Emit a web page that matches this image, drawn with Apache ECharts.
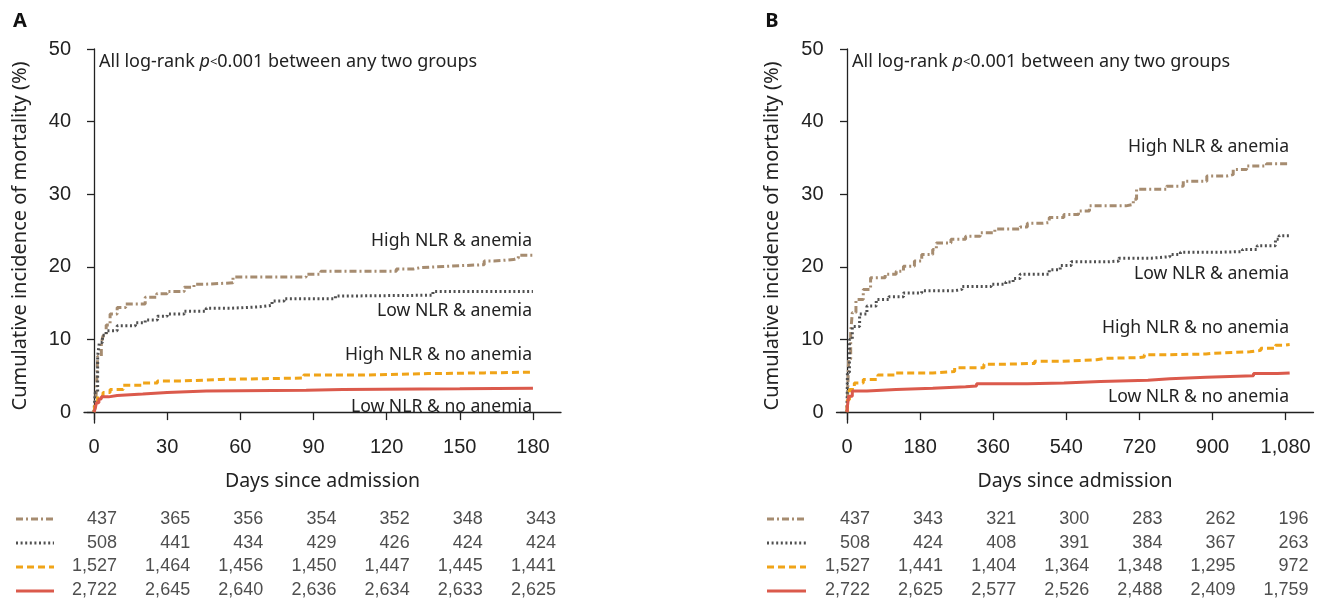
<!DOCTYPE html>
<html>
<head>
<meta charset="utf-8">
<script src="https://cdn.jsdelivr.net/npm/echarts@6/dist/echarts.min.js"></script>
<style>
  html, body { margin: 0; padding: 0; background: #fff; }
  #main { width: 1322px; height: 602px; }
</style>
</head>
<body>
<div id="main"></div>
<script>
// group names (order of risk table rows)
const groups = ['High NLR & anemia', 'Low NLR & anemia', 'High NLR & no anemia', 'Low NLR & no anemia'];

// panel A: 180-day follow-up, [day, cumulative incidence %]
const a_highAnemia = [[0,0],[0.5,0.8],[1,3],[1.5,7.7],[3,9.5],[3.7,10.5],[5,12],[6.6,13.5],[9.5,14.4],[13,14.9],[21,15.8],[25.7,16.3],[30,16.6],[37,17.2],[41,17.6],[45,17.8],[57,18.6],[87,19],[93,19.4],[124,19.7],[131,19.9],[134,20.1],[146,20.3],[160,20.8],[164,21],[172,21.2],[174,21.6],[180,21.6]];
const a_lowAnemia = [[0,0],[0.5,2.7],[1.5,7.7],[2.2,9.6],[3.5,10.6],[5,11.2],[9.5,11.9],[17,12.3],[21,12.7],[26,13.2],[30,13.5],[37,13.9],[46,14.3],[56,14.5],[68,14.7],[73,15.3],[78,15.6],[99,16],[108,16.1],[139,16.6],[180,16.6]];
const a_highNoAnemia = [[0,0],[0.5,1.3],[1.5,2.2],[3.7,2.7],[6.6,3.1],[12,3.7],[20,4.0],[26,4.3],[37,4.5],[52,4.6],[70,4.7],[86,5.1],[111,5.3],[137,5.4],[160,5.5],[180,5.5]];
const a_lowNoAnemia = [[0,0],[0.5,0.5],[1,1.3],[2,1.8],[3,2.1],[6,2.3],[9.5,2.5],[20,2.7],[30,2.9],[46,3.0],[87,3.1],[102,3.2],[150,3.3],[180,3.3]];

// panel B: 3-year follow-up
const b_highAnemia = [[0,0],[1,1.7],[4,7.3],[9,10.9],[13,13.7],[22,15.5],[40,16.9],[58,18.5],[94,19],[121,19.4],[139,20.1],[166,20.8],[184,21.7],[211,22.4],[220,23.3],[256,23.8],[292,24.2],[328,24.7],[364,25.2],[426,25.5],[444,26.0],[480,26.1],[498,26.8],[534,27.2],[570,27.7],[597,28.4],[687,28.6],[705,29.3],[713,30.7],[787,31.1],[828,31.8],[886,32.5],[935,32.7],[951,33.4],[984,33.9],[1033,34.2],[1090,34.2]];
const b_lowAnemia = [[0,0],[1,5.5],[6,10],[13,11.8],[31,13.5],[49,14.6],[72,15.5],[103,15.9],[139,16.4],[184,16.7],[265,16.9],[283,17.3],[355,17.6],[391,17.9],[409,18.4],[426,19],[498,19.6],[525,20.2],[552,20.7],[642,20.8],[669,21.2],[750,21.4],[795,21.7],[821,22.0],[911,22.1],[974,22.4],[1010,22.9],[1055,23.8],[1064,24.3],[1090,24.4]];
const b_highNoAnemia = [[0,0],[1,1.7],[6,3.1],[18,4.0],[40,4.5],[76,5.1],[121,5.4],[211,5.6],[265,6.1],[337,6.6],[391,6.7],[462,7.0],[525,7.2],[615,7.4],[633,7.5],[714,7.6],[732,7.9],[795,8.0],[884,8.1],[902,8.3],[992,8.5],[1019,8.8],[1055,9.2],[1075,9.3],[1090,9.3]];
const b_lowNoAnemia = [[0,0],[1,0.8],[4,2.2],[13,2.9],[49,3.1],[121,3.3],[211,3.5],[292,3.6],[319,3.9],[444,4.0],[534,4.2],[624,4.4],[741,4.6],[795,4.8],[884,5.0],[1001,5.3],[1060,5.4],[1090,5.4]];

// tick positions
const a_ticks = [0, 30, 60, 90, 120, 150, 180];
const b_ticks = [0, 180, 360, 540, 720, 900, 1080];
const y_ticks = [0, 10, 20, 30, 40, 50];

// number at risk
const a_risk = [
  [437, 365, 356, 354, 352, 348, 343],
  [508, 441, 434, 429, 426, 424, 424],
  [1527, 1464, 1456, 1450, 1447, 1445, 1441],
  [2722, 2645, 2640, 2636, 2634, 2633, 2625]
];
const b_risk = [
  [437, 343, 321, 300, 283, 262, 196],
  [508, 424, 408, 391, 384, 367, 263],
  [1527, 1441, 1404, 1364, 1348, 1295, 972],
  [2722, 2625, 2577, 2526, 2488, 2409, 1759]
];

const colors = ['#a68c70', '#505050', '#f0a418', '#db5a4c'];
const dashes = [[7, 3, 2, 3], [2, 2.6], [7, 4], 'solid'];
const numFont = '"Liberation Sans", Arial, sans-serif';
const txtFont = '"Noto Sans", "Open Sans", sans-serif';

const fmt = v => v.toLocaleString('en-US');

const chart = echarts.init(document.getElementById('main'));

function plotX(idx, min, max, ticks) {
  return {
    type: 'value', gridIndex: idx, min: min, max: max,
    name: 'Days since admission', nameLocation: 'middle', nameGap: 48,
    nameTextStyle: { fontFamily: txtFont, fontSize: 19.5, color: '#222' },
    axisLine: { show: true, lineStyle: { color: '#222', width: 1.3 } },
    axisTick: { show: true, length: 8, customValues: ticks, lineStyle: { color: '#222', width: 1.3 } },
    axisLabel: { customValues: ticks, formatter: v => fmt(v), margin: 14, fontFamily: numFont, fontSize: 20, color: '#222' },
    splitLine: { show: false }
  };
}
function plotY(idx) {
  return {
    type: 'value', gridIndex: idx, min: -1.5, max: 50,
    axisLine: { show: true, lineStyle: { color: '#222', width: 1.3 } },
    axisTick: { show: true, length: 7, customValues: y_ticks, lineStyle: { color: '#222', width: 1.3 } },
    axisLabel: { customValues: y_ticks, margin: 13, fontFamily: numFont, fontSize: 20, color: '#222' },
    splitLine: { show: false }
  };
}
function tableX(idx, min, max) {
  return { type: 'value', gridIndex: idx, min: min, max: max, show: false };
}
function tableY(idx) {
  return { type: 'category', gridIndex: idx, data: groups, inverse: true, show: false };
}

function curves(list, xi) {
  return list.map((d, i) => ({
    type: 'line', xAxisIndex: xi, yAxisIndex: xi, data: d, step: 'end',
    showSymbol: false, silent: true, animation: false,
    lineStyle: { color: colors[i], width: 3, type: dashes[i], cap: 'butt' }
  }));
}
function riskTable(risk, ticks, xi) {
  const pts = [];
  risk.forEach((row, r) => row.forEach((v, c) => pts.push([ticks[c], groups[r], v])));
  return {
    type: 'scatter', xAxisIndex: xi, yAxisIndex: xi, data: pts, symbolSize: 0,
    silent: true, animation: false,
    label: {
      show: true, position: 'inside', align: 'right', verticalAlign: 'middle', offset: [23, 0],
      formatter: p => fmt(p.value[2]), fontFamily: numFont, fontSize: 18, color: '#222'
    }
  };
}

function legendLines(x0, x1) {
  const rows = [519, 543, 567, 591];
  return rows.map((y, i) => ({
    type: 'line', shape: { x1: x0, y1: y, x2: x1, y2: y },
    style: { stroke: colors[i], lineWidth: 3, lineDash: dashes[i] === 'solid' ? null : dashes[i] }
  }));
}
function noteText(x, y) {
  return {
    type: 'text', x: x, y: y,
    style: {
      text: '{a|All log-rank }{p|p}{s|<}{a|0.001 between any two groups}',
      verticalAlign: 'middle',
      rich: {
        a: { fontFamily: txtFont, fontSize: 18, fill: '#222' },
        p: { fontFamily: txtFont, fontSize: 18, fontStyle: 'italic', fill: '#222' },
        s: { fontFamily: txtFont, fontSize: 13, fill: '#222' }
      }
    }
  };
}
function yTitle(x) {
  return {
    type: 'text', x: x, y: 236, rotation: Math.PI / 2,
    style: { text: 'Cumulative incidence of mortality (%)', align: 'center', verticalAlign: 'middle', fontFamily: txtFont, fontSize: 20, fill: '#222' }
  };
}
function groupLabel(text, x, y) {
  return {
    type: 'text', x: x, y: y,
    style: { text: text, align: 'right', verticalAlign: 'middle', fontFamily: txtFont, fontSize: 17.6, fill: '#222' }
  };
}

const option = {
  backgroundColor: '#fff',
  animation: false,
  grid: [
    { left: 84, top: 49, width: 477, height: 374 },
    { left: 836.5, top: 49, width: 477, height: 374 },
    { left: 84, top: 507, width: 477, height: 96 },
    { left: 836.5, top: 507, width: 477, height: 96 }
  ],
  xAxis: [
    plotX(0, -4.1, 191.5, a_ticks),
    plotX(1, -25.9, 1148.7, b_ticks),
    tableX(2, -4.1, 191.5),
    tableX(3, -25.9, 1148.7)
  ],
  yAxis: [plotY(0), plotY(1), tableY(2), tableY(3)],
  series: [
    ...curves([a_highAnemia, a_lowAnemia, a_highNoAnemia, a_lowNoAnemia], 0),
    ...curves([b_highAnemia, b_lowAnemia, b_highNoAnemia, b_lowNoAnemia], 1),
    riskTable(a_risk, a_ticks, 2),
    riskTable(b_risk, b_ticks, 3)
  ],
  graphic: [
    { type: 'text', x: 20, y: 21, style: { text: 'A', align: 'center', verticalAlign: 'middle', fontFamily: txtFont, fontWeight: 'bold', fontSize: 20, fill: '#111' } },
    { type: 'text', x: 772, y: 21, style: { text: 'B', align: 'center', verticalAlign: 'middle', fontFamily: txtFont, fontWeight: 'bold', fontSize: 20, fill: '#111' } },
    yTitle(20),
    yTitle(772),
    noteText(99, 62),
    noteText(852, 62),
    groupLabel(groups[0], 532, 241),
    groupLabel(groups[1], 532, 311),
    groupLabel(groups[2], 532, 355),
    groupLabel(groups[3], 532, 407),
    groupLabel(groups[0], 1289, 147),
    groupLabel(groups[1], 1289, 274),
    groupLabel(groups[2], 1289, 328),
    groupLabel(groups[3], 1289, 397),
    ...legendLines(16, 54),
    ...legendLines(767, 806)
  ]
};

chart.setOption(option);
</script>
</body>
</html>
